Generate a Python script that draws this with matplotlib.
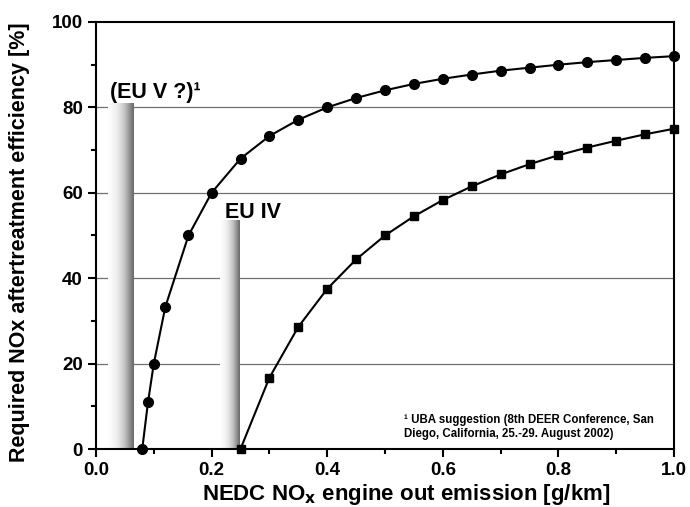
import numpy as np
import matplotlib.pyplot as plt
from matplotlib.ticker import MultipleLocator

plt.rcParams['font.family'] = ['Liberation Sans', 'DejaVu Sans']
plt.rcParams['font.weight'] = 'bold'

# EU V curve (circles)
x_eu5 = [0.08, 0.09, 0.10, 0.12, 0.16, 0.20, 0.25, 0.30, 0.35, 0.40, 0.45,
         0.50, 0.55, 0.60, 0.65, 0.70, 0.75, 0.80, 0.85, 0.90, 0.95, 1.00]
y_eu5 = [0, 11, 20, 33.3, 50, 60, 68, 73.3, 77.1, 80, 82.2,
         84, 85.5, 86.7, 87.7, 88.6, 89.3, 90, 90.6, 91.1, 91.6, 92]
# EU IV curve (squares)
x_eu4 = [0.25, 0.30, 0.35, 0.40, 0.45, 0.50, 0.55, 0.60, 0.65, 0.70,
         0.75, 0.80, 0.85, 0.90, 0.95, 1.00]
y_eu4 = [0, 16.7, 28.6, 37.5, 44.4, 50, 54.5, 58.3, 61.5, 64.3,
         66.7, 68.8, 70.6, 72.2, 73.7, 75]
# limit bars
bar_left = [0.02, 0.215]
bar_right = [0.064, 0.249]
bar_height = [81, 53.5]
bar_labels = ['(EU V ?)¹', 'EU IV']

fig = plt.figure(figsize=(6.9, 5.07), dpi=100)
ax = fig.add_axes([96 / 690, 1 - 449 / 507, 578 / 690, 427 / 507])
ax.set_xlim(0, 1.0)
ax.set_ylim(0, 100)

for yv in [20, 40, 60, 80]:
    ax.axhline(yv, color='#707070', lw=0.9, zorder=1)

grad = np.linspace(0, 1, 256) ** 1.5
grad = np.vstack([grad, grad])
for l, r, h in zip(bar_left, bar_right, bar_height):
    ax.imshow(grad, cmap='Greys', vmin=-0.02, vmax=1.5, aspect='auto',
              extent=[l, r, 0, h], interpolation='bicubic', zorder=2)

ax.text(0.024, 82.3, bar_labels[0], fontsize=15.5, fontweight='bold', va='baseline', ha='left')
ax.text(0.223, 54.2, bar_labels[1], fontsize=15.5, fontweight='bold', va='baseline', ha='left')

ax.plot(x_eu5, y_eu5, color='black', lw=1.5, marker='o', ms=7, zorder=4, clip_on=False)
ax.plot(x_eu4, y_eu4, color='black', lw=1.5, marker='s', ms=6, zorder=4, clip_on=False)

ax.text(0.533, 2.0, '¹ UBA suggestion (8th DEER Conference, San\nDiego, California, 25.-29. August 2002)',
        fontsize=8.3, fontweight='bold', va='bottom', ha='left', linespacing=1.25)

ax.xaxis.set_major_locator(MultipleLocator(0.2))
ax.xaxis.set_minor_locator(MultipleLocator(0.1))
ax.yaxis.set_major_locator(MultipleLocator(20))
ax.yaxis.set_minor_locator(MultipleLocator(10))
ax.xaxis.set_major_formatter(plt.FuncFormatter(lambda v, p: f'{v:.1f}'))
ax.tick_params(which='major', length=6, width=1.5, labelsize=13.5, direction='out')
ax.tick_params(which='minor', length=3.5, width=1.5, direction='out')
for lab in ax.get_xticklabels() + ax.get_yticklabels():
    lab.set_fontweight('bold')
for s in ax.spines.values():
    s.set_linewidth(1.5)

ax.set_xlabel('NEDC NO$_\\mathbf{x}$ engine out emission [g/km]', fontsize=16, fontweight='bold')
ax.xaxis.set_label_coords(0.536, -0.077)
ax.set_ylabel('Required NOx aftertreatment efficiency [%]', fontsize=15.5, fontweight='bold')
ax.yaxis.set_label_coords(-0.115, 0.484)

fig.savefig('out.png', dpi=100)
